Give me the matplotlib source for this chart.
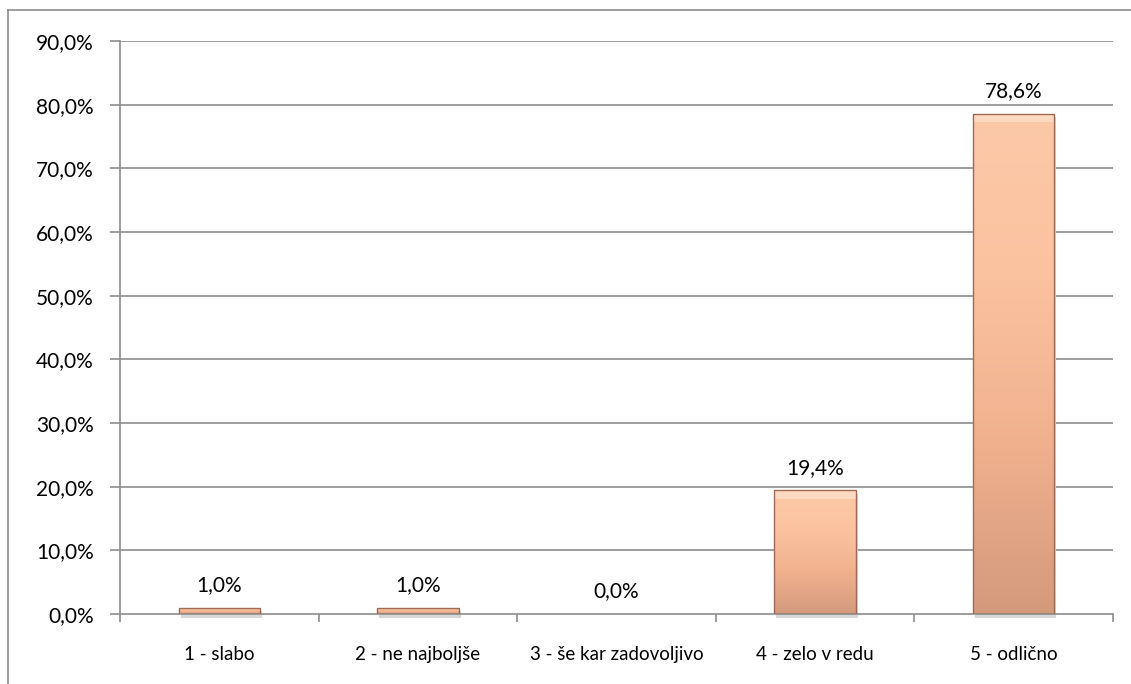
import numpy as np
import matplotlib.pyplot as plt
from matplotlib.colors import LinearSegmentedColormap
from matplotlib.patches import Rectangle
from matplotlib.lines import Line2D

plt.rcParams['font.family'] = ['Lato', 'DejaVu Sans']

# podatki
kategorije = ["1 - slabo", "2 - ne najboljše", "3 - še kar zadovoljivo",
              "4 - zelo v redu", "5 - odlično"]
deleži = [1.0, 1.0, 0.0, 19.4, 78.6]
y_ticks = [0, 10, 20, 30, 40, 50, 60, 70, 80, 90]

W, H = 1131, 684
fig = plt.figure(figsize=(W / 100, H / 100), dpi=100)

# okvir grafa (levi in zgornji rob)
fig.add_artist(Line2D([8 / W, 8 / W], [0, 1 - 10 / H], color="#8c8c8c", lw=1.2))
fig.add_artist(Line2D([8 / W, 1], [1 - 10 / H, 1 - 10 / H], color="#8c8c8c", lw=1.2))

left, right, top, bottom = 120, 1113, 41, 614
ax = fig.add_axes([left / W, 1 - bottom / H, (right - left) / W, (bottom - top) / H])

x = np.arange(len(kategorije))
ax.set_xlim(-0.5, len(kategorije) - 0.5)
ax.set_ylim(0, 90)

for t in y_ticks[1:]:
    ax.axhline(t, color="#8c8c8c", lw=1.2, zorder=0)

# gradient za stolpce
cmap = LinearSegmentedColormap.from_list("breskev", ["#d49a7c", "#f0b08e", "#fbc29f", "#fcc9a8"])
bw = 0.41
for xi, v in zip(x, deleži):
    if v > 0:
        # senca pod stolpcem
        ax.add_patch(Rectangle((xi - bw / 2 + 0.01, -0.6), bw, v, facecolor="#d8d8d8",
                               edgecolor="none", zorder=1, clip_on=False))
        grad = np.linspace(0, 1, 256).reshape(-1, 1)
        im = ax.imshow(grad, cmap=cmap, aspect="auto", origin="lower",
                       extent=(xi - bw / 2, xi + bw / 2, 0, v), zorder=2)
        r = Rectangle((xi - bw / 2, 0), bw, v, facecolor="none", edgecolor="#9c6a55",
                      lw=1.0, zorder=3)
        ax.add_patch(r)
        im.set_clip_path(r)
        # svetla zgornja letvica
        if v > 5:
            ax.add_patch(Rectangle((xi - bw / 2, v - 1.3), bw, 1.3, facecolor="#fdd9c0",
                                   edgecolor="none", zorder=2.5))
    ax.text(xi, v + 2.0, f"{v:.1f}%".replace(".", ","), ha="center", va="bottom",
            fontsize=15, color="#000000")

ax.set_yticks(y_ticks)
ax.set_yticklabels([f"{t:.1f}%".replace(".", ",") for t in y_ticks], fontsize=15)
ax.set_xticks(np.arange(len(kategorije) + 1) - 0.5, minor=False)
ax.set_xticklabels([""] * (len(kategorije) + 1))
ax.set_xticks(x, minor=True)
ax.set_xticklabels(kategorije, minor=True, fontsize=13.5)
ax.tick_params(axis="x", which="minor", length=0, pad=23)
ax.tick_params(axis="x", which="major", length=6, color="#8c8c8c", width=1.2)
ax.tick_params(axis="y", length=7, color="#8c8c8c", width=1.2, pad=12)

for s in ["top", "right"]:
    ax.spines[s].set_visible(False)
for s in ["left", "bottom"]:
    ax.spines[s].set_color("#8c8c8c")
    ax.spines[s].set_linewidth(1.2)

fig.savefig("out.png", dpi=100)
